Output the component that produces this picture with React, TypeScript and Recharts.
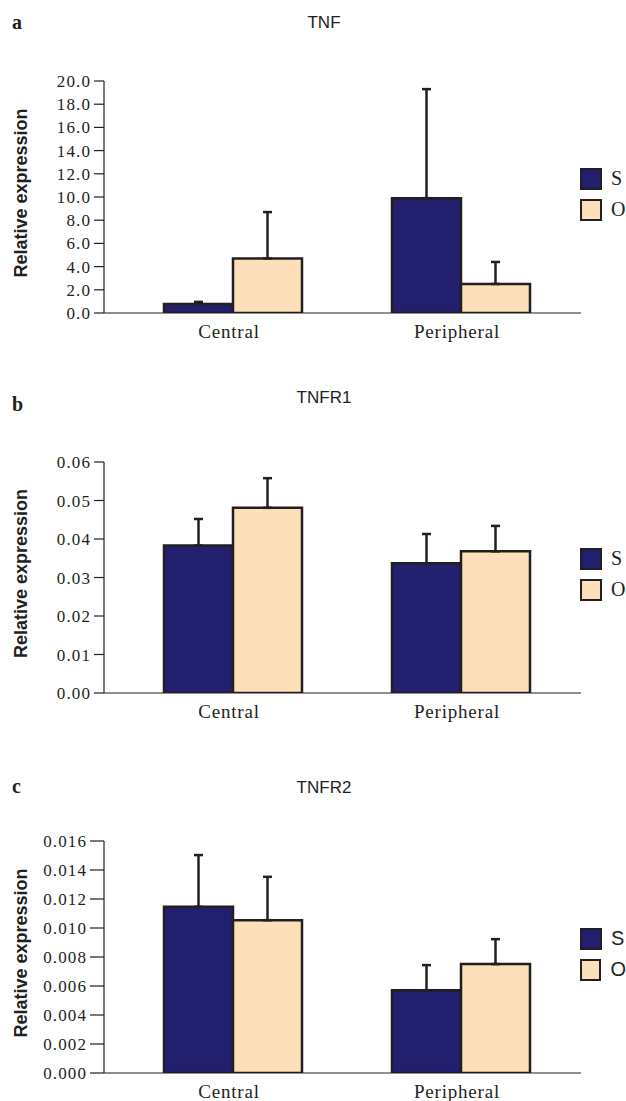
import { Bar, BarChart, ErrorBar, Legend, XAxis, YAxis } from "recharts";

const CATEGORIES = ["Central", "Peripheral"];

// panel a: TNF
const TNF_S = [0.78, 9.9];
const TNF_S_ERR = [0.18, 9.4];
const TNF_O = [4.7, 2.5];
const TNF_O_ERR = [4.0, 1.9];
const TNF_TICKS = [0, 2, 4, 6, 8, 10, 12, 14, 16, 18, 20];

// panel b: TNFR1
const TNFR1_S = [0.0383, 0.0337];
const TNFR1_S_ERR = [0.0069, 0.0076];
const TNFR1_O = [0.0481, 0.0368];
const TNFR1_O_ERR = [0.0077, 0.0066];
const TNFR1_TICKS = [0, 0.01, 0.02, 0.03, 0.04, 0.05, 0.06];

// panel c: TNFR2
const TNFR2_S = [0.01146, 0.00571];
const TNFR2_S_ERR = [0.00357, 0.00173];
const TNFR2_O = [0.01054, 0.00751];
const TNFR2_O_ERR = [0.00299, 0.00172];
const TNFR2_TICKS = [0, 0.002, 0.004, 0.006, 0.008, 0.01, 0.012, 0.014, 0.016];

const NAVY = "#221f6e";
const PEACH = "#fde0b9";
const INK = "#231f20";
const SERIF = "'Liberation Serif', serif";
const SANS = "'Liberation Sans', sans-serif";

function buildRows(s: number[], sErr: number[], o: number[], oErr: number[]) {
  return CATEGORIES.map((name, i) => ({
    name,
    s: s[i],
    sErr: [0, sErr[i]],
    o: o[i],
    oErr: [0, oErr[i]],
  }));
}

interface PanelProps {
  top: number;
  plotTop: number;
  letter: string;
  letterY: number;
  title: string;
  titleY: number;
  rows: ReturnType<typeof buildRows>;
  ticks: number[];
  digits: number;
  tickSize: number;
  legendFont: string;
}

function LegendBox({ font }: { font: string }) {
  const items = [
    { label: "S", color: NAVY },
    { label: "O", color: PEACH },
  ];
  return (
    <div>
      {items.map((it, i) => (
        <div key={it.label} style={{ display: "flex", alignItems: "center", height: 23, marginTop: i ? 8 : 0 }}>
          <div style={{ width: 18, height: 18, background: it.color, border: `2.5px solid ${INK}` }} />
          <span style={{ marginLeft: 9, fontFamily: font, fontSize: 20, color: INK }}>{it.label}</span>
        </div>
      ))}
    </div>
  );
}

function Panel(p: PanelProps) {
  const max = p.ticks[p.ticks.length - 1];
  return (
    <div style={{ position: "absolute", left: 0, top: p.top, width: 626, height: 350 }}>
      <BarChart
        width={626}
        height={350}
        data={p.rows}
        margin={{ top: p.plotTop, right: 45, left: 0, bottom: 0 }}
        barSize={69}
        barGap={0}
      >
        <XAxis
          dataKey="name"
          height={37}
          padding={{ left: 15, right: 6 }}
          tickLine={false}
          tickSize={0}
          tickMargin={12}
          axisLine={{ stroke: INK, strokeWidth: 1.2 }}
          tick={{ fontFamily: SERIF, fontSize: 19, fill: INK, letterSpacing: 0.8, dx: -4 }}
        />
        <YAxis
          width={104}
          domain={[0, max]}
          ticks={p.ticks}
          interval={0}
          allowDataOverflow
          tickFormatter={(v: number) => v.toFixed(p.digits)}
          tickSize={p.tickSize}
          tickMargin={3}
          axisLine={{ stroke: INK, strokeWidth: 1.2 }}
          tickLine={{ stroke: INK, strokeWidth: 1.2 }}
          tick={{ fontFamily: SERIF, fontSize: 17, fill: INK, letterSpacing: 1.1 }}
          label={{
            value: "Relative expression",
            angle: -90,
            position: "center",
            dx: -31,
            dy: -4,
            style: { fontFamily: SANS, fontWeight: "bold", fontSize: 18, fill: INK, textAnchor: "middle" },
          }}
        />
        <Legend
          layout="vertical"
          align="center"
          verticalAlign="middle"
          wrapperStyle={{ left: 580, top: 167, width: 46 }}
          content={() => <LegendBox font={p.legendFont} />}
        />
        <Bar dataKey="s" name="S" fill={NAVY} stroke={INK} strokeWidth={2.5} isAnimationActive={false}>
          <ErrorBar dataKey="sErr" width={4.5} stroke={INK} strokeWidth={2.5} direction="y" />
        </Bar>
        <Bar dataKey="o" name="O" fill={PEACH} stroke={INK} strokeWidth={2.5} isAnimationActive={false}>
          <ErrorBar dataKey="oErr" width={4.5} stroke={INK} strokeWidth={2.5} direction="y" />
        </Bar>
      </BarChart>
      <svg width={626} height={60} style={{ position: "absolute", left: 0, top: 0, pointerEvents: "none" }}>
        <text x={12} y={p.letterY} fontFamily={SERIF} fontWeight="bold" fontSize={20} fill={INK}>
          {p.letter}
        </text>
        <text x={324} y={p.titleY} fontFamily={SANS} fontSize={17} fill={INK} textAnchor="middle">
          {p.title}
        </text>
      </svg>
    </div>
  );
}

export default function App() {
  return (
    <div style={{ position: "absolute", left: 0, top: 0, width: 626, height: 1101, overflow: "hidden", background: "#fff" }}>
      <Panel
        top={0}
        plotTop={81}
        letter="a"
        letterY={29}
        title="TNF"
        titleY={28}
        rows={buildRows(TNF_S, TNF_S_ERR, TNF_O, TNF_O_ERR)}
        ticks={TNF_TICKS}
        digits={1}
        tickSize={10}
        legendFont={SERIF}
      />
      <Panel
        top={380}
        plotTop={82}
        letter="b"
        letterY={31}
        title="TNFR1"
        titleY={23}
        rows={buildRows(TNFR1_S, TNFR1_S_ERR, TNFR1_O, TNFR1_O_ERR)}
        ticks={TNFR1_TICKS}
        digits={2}
        tickSize={10}
        legendFont={SERIF}
      />
      <Panel
        top={760}
        plotTop={81}
        letter="c"
        letterY={33}
        title="TNFR2"
        titleY={33}
        rows={buildRows(TNFR2_S, TNFR2_S_ERR, TNFR2_O, TNFR2_O_ERR)}
        ticks={TNFR2_TICKS}
        digits={3}
        tickSize={14}
        legendFont={SANS}
      />
    </div>
  );
}
